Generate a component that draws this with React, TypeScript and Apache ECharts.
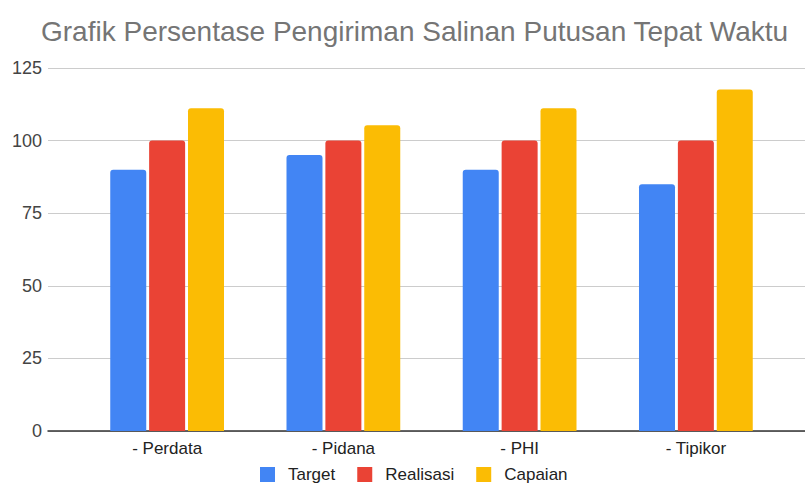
import React, { useEffect, useRef } from "react";
import * as echarts from "echarts";

const categories = ["- Perdata", "- Pidana", "- PHI", "- Tipikor"];
const target = [90, 95, 90, 85];
const realisasi = [100, 100, 100, 100];
const capaian = [111.1, 105.3, 111.1, 117.6];
const yMin = 0;
const yMax = 125;
const yInterval = 25;

export default function App() {
  const ref = useRef<HTMLDivElement>(null);
  useEffect(() => {
    if (!ref.current) return;
    document.body.style.margin = "0";
    const chart = echarts.init(ref.current, null, { renderer: "svg" });
    const font = "Arial, 'Liberation Sans', sans-serif";
    chart.setOption({
      animation: false,
      backgroundColor: "#ffffff",
      textStyle: { fontFamily: font },
      title: {
        text: "Grafik Persentase Pengiriman Salinan Putusan Tepat Waktu",
        left: 36,
        top: 12,
        textStyle: { fontFamily: font, fontSize: 28, fontWeight: "normal", color: "#757575" },
      },
      legend: {
        bottom: 0,
        left: 255,
        icon: "rect",
        itemWidth: 15,
        itemHeight: 15,
        itemGap: 22,
        textStyle: { fontFamily: font, fontSize: 17, color: "#222222", padding: [0, 0, 0, 8] },
        data: ["Target", "Realisasi", "Capaian"],
      },
      grid: [
        { left: 48, right: 0, top: 68, bottom: 57 },
        { left: 79, right: 21, top: 68, bottom: 57 },
      ],
      xAxis: [
        {
          gridIndex: 0,
          type: "value",
          min: 0,
          max: 1,
          axisLine: { show: true, lineStyle: { color: "#333333", width: 1.5 } },
          axisTick: { show: false },
          axisLabel: { show: false },
          splitLine: { show: false },
        },
        {
          gridIndex: 1,
          type: "category",
          data: categories,
          axisLine: { show: false },
          axisTick: { show: false },
          axisLabel: { fontFamily: font, fontSize: 17, color: "#222222", margin: 9 },
        },
      ],
      yAxis: [
        {
          gridIndex: 0,
          type: "value",
          min: yMin,
          max: yMax,
          interval: yInterval,
          axisLine: { show: false },
          axisTick: { show: false },
          axisLabel: { fontFamily: font, fontSize: 18, color: "#444444", margin: 6 },
          splitLine: { lineStyle: { color: "#cccccc", width: 1 } },
        },
        {
          gridIndex: 1,
          type: "value",
          min: yMin,
          max: yMax,
          interval: yInterval,
          show: false,
          splitLine: { show: false },
        },
      ],
      series: [
        {
          name: "Target",
          type: "bar",
          xAxisIndex: 1,
          yAxisIndex: 1,
          data: target,
          barWidth: 36,
          barGap: "8%",
          itemStyle: { color: "#4285F4", borderRadius: [3, 3, 0, 0] },
        },
        {
          name: "Realisasi",
          type: "bar",
          xAxisIndex: 1,
          yAxisIndex: 1,
          data: realisasi,
          barWidth: 36,
          barGap: "8%",
          itemStyle: { color: "#EA4335", borderRadius: [3, 3, 0, 0] },
        },
        {
          name: "Capaian",
          type: "bar",
          xAxisIndex: 1,
          yAxisIndex: 1,
          data: capaian,
          barWidth: 36,
          barGap: "8%",
          itemStyle: { color: "#FBBC04", borderRadius: [3, 3, 0, 0] },
        },
      ],
    });
    return () => chart.dispose();
  }, []);
  return <div ref={ref} style={{ width: 805, height: 488 }} />;
}
